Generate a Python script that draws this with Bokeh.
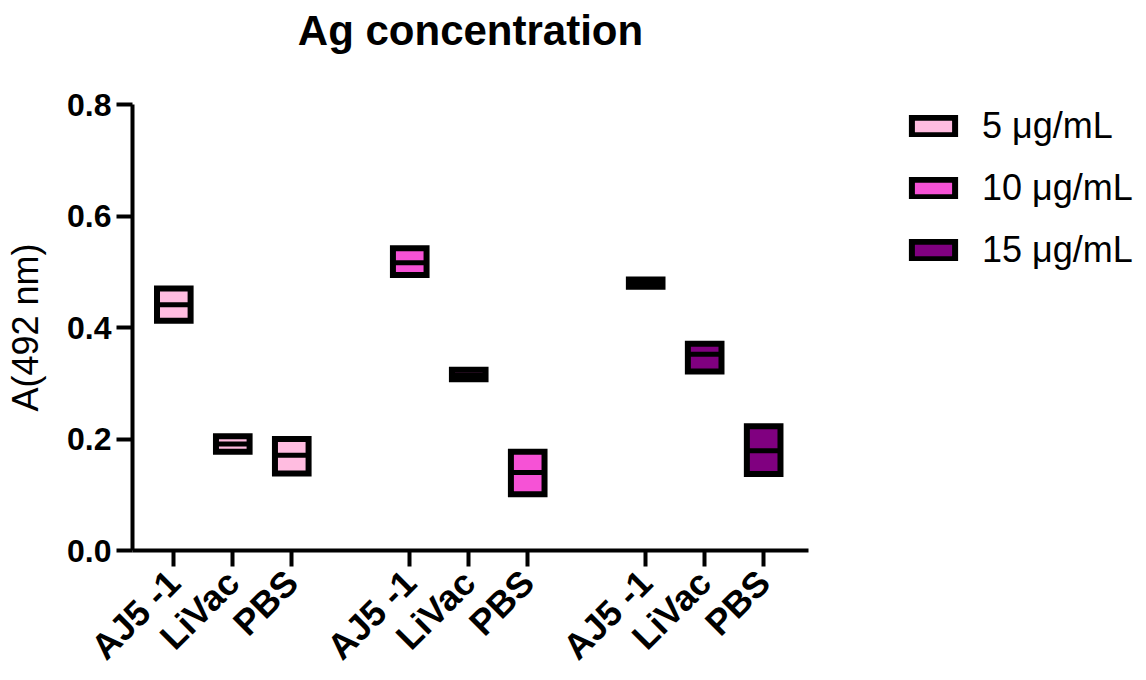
import math
from bokeh.plotting import figure
from bokeh.models import (ColumnDataSource, FixedTicker, Legend, LegendItem,
                          Range1d, PrintfTickFormatter, Title)
from bokeh.embed import file_html
from bokeh.resources import INLINE

# ---- data ----
categories = ["AJ5 -1", "LiVac", "PBS"]
series_names = ["5 μg/mL", "10 μg/mL", "15 μg/mL"]
series_colors = ["#FFBCE0", "#F652D6", "#800080"]
group_positions = [[1, 2, 3], [5, 6, 7], [9, 10, 11]]

s5_min = [0.412, 0.177, 0.138]
s5_max = [0.470, 0.205, 0.200]
s5_med = [0.441, 0.191, 0.171]

s10_min = [0.494, 0.307, 0.101]
s10_max = [0.542, 0.324, 0.177]
s10_med = [0.516, 0.315, 0.140]

s15_min = [0.473, 0.321, 0.137]
s15_max = [0.486, 0.371, 0.223]
s15_med = [0.479, 0.352, 0.179]

mins = [s5_min, s10_min, s15_min]
maxs = [s5_max, s10_max, s15_max]
meds = [s5_med, s10_med, s15_med]

y_ticks = [0.0, 0.2, 0.4, 0.6, 0.8]

BAR_W = 0.57
FONT = "Liberation Sans"

p = figure(frame_width=676, frame_height=446,
           x_range=Range1d(0.3, 11.76), y_range=Range1d(0, 0.8),
           output_backend="svg", toolbar_location=None,
           min_border_left=132, min_border_right=338,
           min_border_top=104, min_border_bottom=130)

# spacer (closest to frame) then the real title above it
p.add_layout(Title(text=" ", text_font_size="39px", standoff=0), "above")
p.add_layout(Title(text="Ag concentration", text_font=FONT,
                   text_font_size="42px", text_font_style="bold",
                   align="center", vertical_align="top",
                   text_color="black", standoff=8), "above")

p.outline_line_color = None
p.xgrid.visible = False
p.ygrid.visible = False
p.background_fill_color = "white"
p.border_fill_color = "white"

renderers = []
for i in range(3):
    xs = group_positions[i]
    src = ColumnDataSource(dict(
        x=xs, top=maxs[i], bottom=mins[i], med=meds[i],
        x0=[x - BAR_W / 2 for x in xs], x1=[x + BAR_W / 2 for x in xs]))
    r = p.vbar(x="x", width=BAR_W, top="top", bottom="bottom",
               fill_color=series_colors[i], line_color="black",
               line_width=6, line_join="miter", source=src)
    p.segment(x0="x0", y0="med", x1="x1", y1="med", line_color="black",
              line_width=5, source=src)
    renderers.append(r)

# axes
xt = [x for g in group_positions for x in g]
p.xaxis.ticker = FixedTicker(ticks=xt)
p.xaxis.major_label_overrides = {x: categories[j % 3] for j, x in enumerate(xt)}
p.xaxis.major_label_orientation = math.pi / 4
p.yaxis.ticker = FixedTicker(ticks=y_ticks)
p.yaxis.formatter = PrintfTickFormatter(format="%.1f")
p.yaxis.axis_label = "A(492 nm)"
p.yaxis.axis_label_text_font = FONT
p.yaxis.axis_label_text_font_size = "36px"
p.yaxis.axis_label_text_font_style = "normal"
p.yaxis.axis_label_text_color = "black"
p.yaxis.axis_label_standoff = 18

for ax in (p.xaxis[0], p.yaxis[0]):
    ax.axis_line_width = 4
    ax.axis_line_color = "black"
    ax.major_tick_line_width = 4
    ax.major_tick_line_color = "black"
    ax.major_tick_out = 16
    ax.major_tick_in = 0
    ax.minor_tick_line_color = None
    ax.major_label_text_font = FONT
    ax.major_label_text_font_style = "bold"
    ax.major_label_text_color = "black"
    ax.major_label_standoff = 5

p.xaxis.major_label_text_font_size = "36px"
p.xaxis.major_label_standoff = 10
p.yaxis.major_label_text_font_size = "32px"

legend = Legend(items=[LegendItem(label=series_names[i], renderers=[renderers[i]])
                       for i in range(3)],
                location=(98, 279), orientation="vertical",
                border_line_color=None, background_fill_alpha=0,
                padding=0, margin=0, glyph_width=54, glyph_height=22,
                label_standoff=22, label_text_font=FONT,
                label_text_font_size="36px", label_text_color="black",
                label_height=40, spacing=20)
p.add_layout(legend, "right")

open("out.html", "w").write(file_html(p, INLINE))
